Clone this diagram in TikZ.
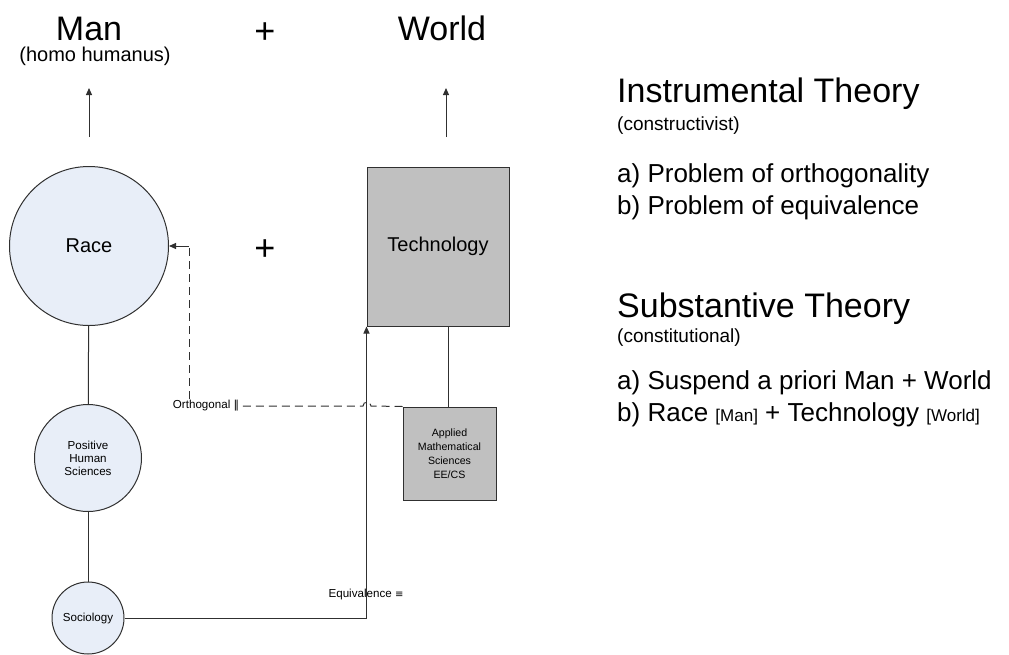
\documentclass[tikz,border=0pt]{standalone}
\usepackage{fontspec}
\setmainfont{Liberation Sans}
\newfontfamily\symfont{DejaVu Sans}
\usetikzlibrary{arrows.meta}
\definecolor{edge}{HTML}{303030}
\definecolor{circfill}{HTML}{E8EEF8}
\definecolor{boxfill}{HTML}{C0C0C0}
\newcommand{\fs}[1]{\fontsize{#1}{#1}\selectfont}
\tikzset{
  circ/.style={circle, draw=edge, fill=circfill, line width=1pt, inner sep=0pt, align=center},
  gbox/.style={rectangle, draw=edge, fill=boxfill, line width=1pt, inner sep=0pt, align=center},
  link/.style={draw=edge, line width=1pt},
  arr/.style={link, -{Triangle[length=7pt,width=6pt]}},
  dashlink/.style={link, dash pattern=on 8pt off 5pt},
  lbl/.style={inner sep=0pt, anchor=base west},
}
\begin{document}
\begin{tikzpicture}[x=1pt, y=-1pt]
\useasboundingbox (0,0) rectangle (1009,654);

% headline: Man + World
\node[inner sep=0pt, anchor=base] (man) at (89,40) {\fs{34}Man};
\node[inner sep=0pt, anchor=base] (homo) at (95,61) {\fs{20}(homo humanus)};
\node[inner sep=0pt] (plustop) at (265,33) {\fs{36}+};
\node[inner sep=0pt, anchor=base] (world) at (442,40) {\fs{34}World};

\coordinate (manfoot) at (89,137);
\coordinate (manhead) at (89,88);
\coordinate (worldfoot) at (446,137);
\coordinate (worldhead) at (446,88);
\draw[arr] (manfoot) -- (manhead);
\draw[arr] (worldfoot) -- (worldhead);

% left column: human sciences
\node[circ, minimum size=159pt, font=\fs{20}] (race) at (89,246) {Race};
\node[circ, minimum size=107pt, font=\fs{11.6}] (phs) at (88,458) {Positive\\[1.5pt]Human\\[1.5pt]Sciences};
\node[circ, minimum size=72pt, font=\fs{11.6}] (soc) at (88,618) {Sociology};
\draw[link] (race) -- (phs);
\draw[link] (phs) -- (soc);

\node[inner sep=0pt] (plusmid) at (265,250) {\fs{36}+};

% right column: technology
\node[gbox, minimum width=142pt, minimum height=159pt, font=\fs{20}] (tech) at (438,246.5) {Technology};
\node[gbox, minimum width=93pt, minimum height=93pt, font=\fs{10.6}] (ams) at (449.5,453.5)
  {Applied\\[3.5pt]Mathematical\\[3.5pt]Sciences\\[3.5pt]EE/CS};
\draw[link] (ams.north -| 448,0) -- (tech.south -| 448,0);

% equivalence connector
\draw[arr] (soc.east) -| (tech.south west);
\node[inner sep=0pt] (equiv) at (366,594) {\fs{11.6}Equivalence {\symfont\fs{10}≡}};

% orthogonal connector (hops over the equivalence line)
\node[fill=white, inner sep=1.5pt] (orth) at (206,406) {\fs{11.6}Orthogonal {\symfont\fs{11}‖}};
\coordinate (hopR) at (371,406);
\coordinate (bend) at (189,246);
\draw[dashlink] (ams.north west) -- (hopR) arc[start angle=0, end angle=180, radius=4pt] -- (orth.east);
\draw[dashlink] (orth.north -| bend) -- (bend);
\draw[arr] (bend) -- (race.east);

% theory text
\node[lbl] (inst) at (617,102) {\fs{34}Instrumental Theory};
\node[lbl] (constr) at (617,130) {\fs{19}(constructivist)};
\node[lbl] (ia) at (617,182) {\fs{26}a) Problem of orthogonality};
\node[lbl] (ib) at (617,214) {\fs{26}b) Problem of equivalence};
\node[lbl] (subs) at (617,317) {\fs{34}Substantive Theory};
\node[lbl] (constit) at (617,342) {\fs{19}(constitutional)};
\node[lbl] (sa) at (617,389) {\fs{26}a) Suspend a priori Man + World};
\node[lbl] (sb) at (617,421) {\fs{26}b) Race {\fs{17}[Man]} + Technology {\fs{17}[World]}};
\end{tikzpicture}
\end{document}
